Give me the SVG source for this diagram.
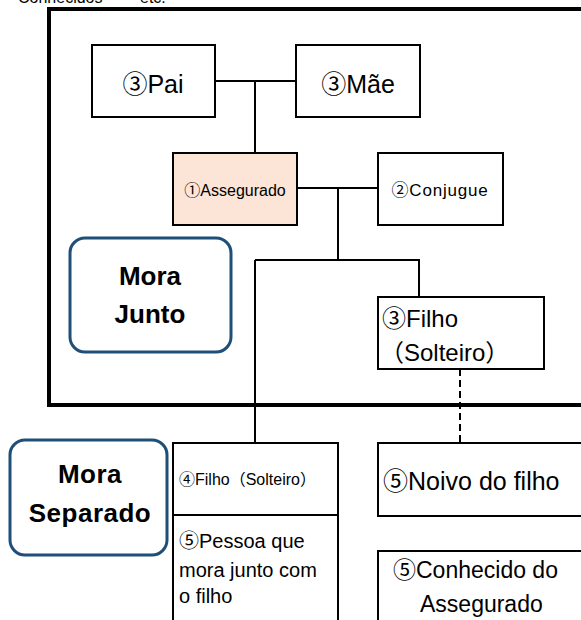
<svg xmlns="http://www.w3.org/2000/svg" width="581" height="620" viewBox="0 0 581 620">
<style>
.box{fill:#fff;stroke:#000;stroke-width:2}
.t{font-family:"Liberation Sans","Noto Sans CJK JP",sans-serif;fill:#000}
.c{font-family:"Noto Sans CJK JP",sans-serif}
.lbl{fill:#fff;stroke:#1F4E79;stroke-width:3}
.b{font-weight:bold}
.ln{stroke:#000;stroke-width:2;fill:none}
</style>
<rect width="581" height="620" fill="#fff"/>
<text class="t" x="18" y="3" font-size="16">Conhecidos</text>
<text class="t" x="140" y="3" font-size="16">etc.</text>
<g id="frame"><path d="M49 407 V9 H590 M47 405 H590" fill="none" stroke="#000" stroke-width="4"/></g>
<g id="connectors">
<path class="ln" d="M215 81 H296 M255 81 V153"/>
<path class="ln" d="M297 188 H378 M338 188 V260 M255 260 H419 V297 M255 260 V443"/>
<path class="ln" d="M460 369 V443" stroke-dasharray="7,4"/>
</g>
<g id="pai"><rect class="box" x="92" y="45" width="123" height="72"/><text class="t" x="153" y="93" font-size="25" text-anchor="middle"><tspan class="c">③</tspan>Pai</text></g>
<g id="mae"><rect class="box" x="296" y="45" width="124" height="72"/><text class="t" x="358" y="93" font-size="25" text-anchor="middle"><tspan class="c">③</tspan>Mãe</text></g>
<g id="assegurado"><rect x="173" y="153" width="124" height="72" fill="#FCE4D6" stroke="#000" stroke-width="2"/><text class="t" x="235" y="196" font-size="16" text-anchor="middle"><tspan class="c">①</tspan>Assegurado</text></g>
<g id="conjugue"><rect class="box" x="378" y="153" width="125" height="72"/><text class="t" x="440" y="196" font-size="17" text-anchor="middle" letter-spacing="0.8"><tspan class="c">②</tspan>Conjugue</text></g>
<g id="moraJunto"><rect class="lbl" x="70" y="238" width="161" height="114" rx="15"/><text class="t b" x="150" y="285" font-size="26" text-anchor="middle">Mora</text><text class="t b" x="150" y="323" font-size="26" text-anchor="middle">Junto</text></g>
<g id="filho"><rect class="box" x="378" y="297" width="166" height="72"/><text class="t" x="382" y="327" font-size="24"><tspan class="c">③</tspan>Filho</text><text class="t" x="380" y="361" font-size="24">（Solteiro）</text></g>
<g id="moraSeparado"><rect class="lbl" x="10" y="440" width="157" height="115" rx="15"/><text class="t b" x="90" y="483" font-size="26" text-anchor="middle" letter-spacing="0.5">Mora</text><text class="t b" x="90" y="522" font-size="26" text-anchor="middle" letter-spacing="0.5">Separado</text></g>
<g id="filhoSolteiro"><rect class="box" x="173" y="443" width="165" height="72"/><text class="t" x="179" y="485" font-size="16"><tspan class="c">④</tspan>Filho（Solteiro）</text></g>
<g id="pessoa"><rect class="box" x="173" y="515" width="165" height="115"/><text class="t" x="179" y="548" font-size="20"><tspan class="c">⑤</tspan>Pessoa que</text><text class="t" x="179" y="577" font-size="20">mora junto com</text><text class="t" x="179" y="603" font-size="20">o filho</text></g>
<g id="noivo"><rect class="box" x="378" y="443" width="222" height="73"/><text class="t" x="383" y="490" font-size="25"><tspan class="c">⑤</tspan>Noivo do filho</text></g>
<g id="conhecido"><rect class="box" x="378" y="551" width="222" height="90"/><text class="t" x="393" y="578" font-size="23"><tspan class="c">⑤</tspan>Conhecido do</text><text class="t" x="420" y="612" font-size="23">Assegurado</text></g>
</svg>
